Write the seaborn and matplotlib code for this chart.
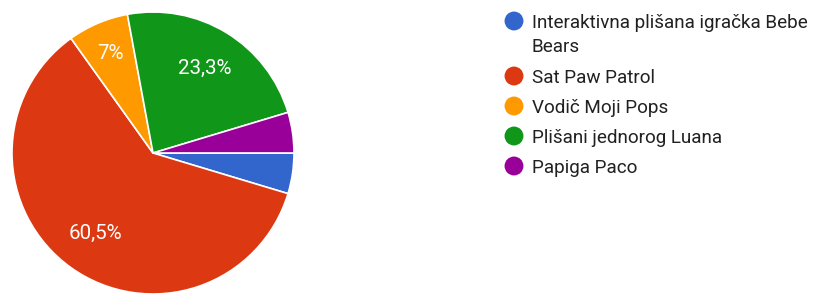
import matplotlib
matplotlib.use("Agg")
import matplotlib.pyplot as plt
import numpy as np
import seaborn as sns

categories = ["Interaktivna plišana igračka Bebe\nBears", "Sat Paw Patrol", "Vodič Moji Pops",
              "Plišani jednorog Luana", "Papiga Paco"]
counts = [2, 26, 3, 10, 2]
colors = ["#3366cc", "#dc3912", "#ff9900", "#109618", "#990099"]

sns.set_theme(style="white")
plt.rcParams['font.family'] = ['Roboto', 'DejaVu Sans']

W, H = 823, 297
fig = plt.figure(figsize=(W / 100, H / 100), dpi=100)
fig.patch.set_facecolor("white")

cx, cy, r = 153, 153, 141
ax = fig.add_axes([(cx - r) / W, (H - cy - r) / H, 2 * r / W, 2 * r / H])
total = sum(counts)

def fmt(p):
    if p < 5:
        return ""
    s = f"{p:.1f}".replace(".", ",")
    if s.endswith(",0"):
        s = s[:-2]
    return s + "%"

wedges, texts, autotexts = ax.pie(
    counts, colors=colors, startangle=0, counterclock=False,
    autopct=fmt, pctdistance=0.70,
    wedgeprops=dict(edgecolor="white", linewidth=1.2),
    textprops=dict(color="white", fontsize=14.8))
# push labels of narrow slices slightly outward
for w, t in zip(wedges, autotexts):
    frac = abs(w.theta2 - w.theta1) / 360
    if 0.05 <= frac < 0.1:
        th = np.deg2rad((w.theta1 + w.theta2) / 2)
        t.set_position((0.77 * np.cos(th), 0.77 * np.sin(th)))
ax.set_xlim(-1, 1)
ax.set_ylim(-1, 1)
ax.set_aspect("equal")
ax.axis("off")

# legend
lax = fig.add_axes([0, 0, 1, 1])
lax.set_xlim(0, W)
lax.set_ylim(H, 0)
lax.axis("off")
ys = [21, 76, 106, 136, 166]
for y, lab, c in zip(ys, categories, colors):
    lax.scatter([514], [y], s=185, color=c, edgecolor="none")
    for i, line in enumerate(lab.split("\n")):
        lax.text(532, y + 7 + 24 * i, line, va="baseline", ha="left",
                 fontsize=13.6, color="#212121")

fig.savefig("out.png", dpi=100)
